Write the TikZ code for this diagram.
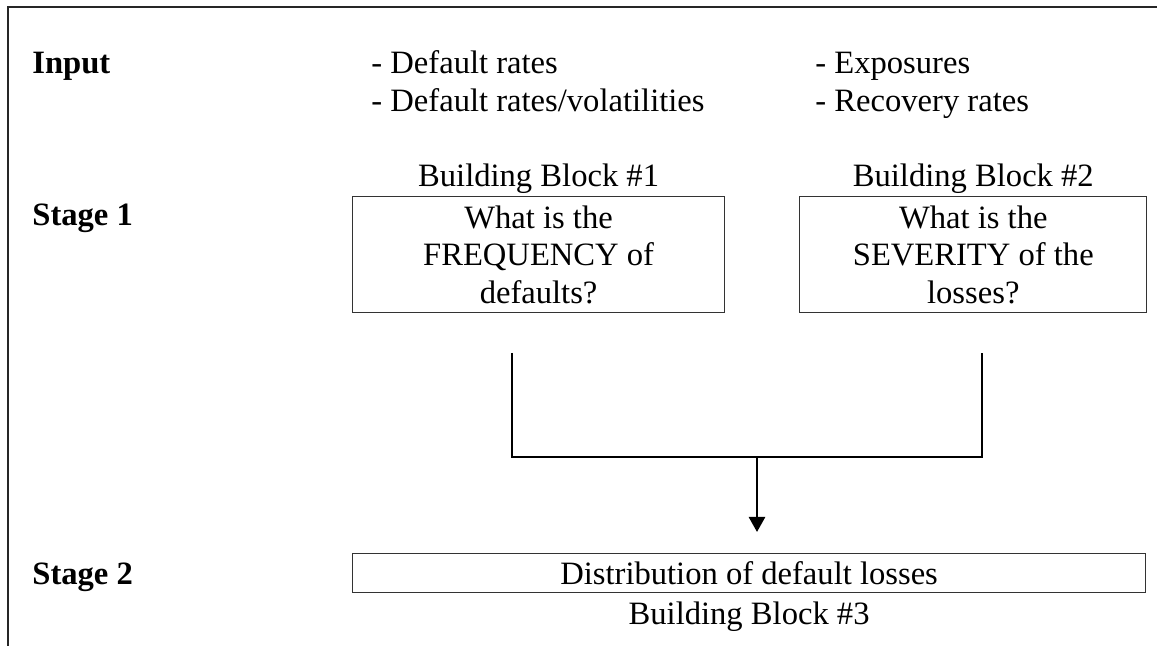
\documentclass[tikz,border=0pt]{standalone}
\usepackage{fontspec}
\setmainfont{Liberation Serif}
\usetikzlibrary{calc, positioning, arrows.meta}
\tikzset{
	txt/.style={inner sep=0pt, anchor=base west, font=\fontsize{16.3}{18.75}\selectfont},
	stage/.style={txt, font=\fontsize{16.3}{18.75}\selectfont\bfseries},
	block/.style={draw=black!80, line width=0.6pt, inner sep=0pt, anchor=north west, align=center, font=\fontsize{16.3}{18.75}\selectfont},
	bblabel/.style={inner sep=1pt, font=\fontsize{16.3}{18.75}\selectfont},
	conn/.style={line width=1.3pt, black},
}

\begin{document}
\begin{tikzpicture}[x=0.5pt, y=-0.5pt]
		\useasboundingbox (0,0) rectangle (1157,646);
		\draw[line width=1pt, black!85] (8,646) -- (8,7) -- (1157,7);
		
		\node[stage] (in) at (32,74) {Input};
		\node[stage] (s1) at (32,226) {Stage 1};
		\node[stage] (s2) at (32,584) {Stage 2};
		
		\node[txt] (d1) at (371,74) {- Default rates};
		\node[txt] (d2) at (371,111.5) {- Default rates/volatilities};
		\node[txt] (e1) at (815,74) {- Exposures};
		\node[txt] (e2) at (815,111.5) {- Recovery rates};
		
		\node[block, minimum width=186pt, minimum height=58pt] (b1) at (352,196) {What is the\\FREQUENCY of\\defaults?};
		\node[block, minimum width=173.5pt, minimum height=58pt, right=37pt of b1] (b2) {What is the\\SEVERITY of the\\losses?};
		\node[block, minimum width=396.5pt, minimum height=19.5pt] (b3) at (352,553) {Distribution of default losses};
		
		\node[bblabel, above=0pt of b1] (bb1) {Building Block \#1};
		\node[bblabel, above=0pt of b2] (bb2) {Building Block \#2};
		\node[bblabel, below=3pt of b3] (bb3) {Building Block \#3};
		
		\coordinate (c1) at (512,353);
		\coordinate (c2) at (982,353);
		\coordinate (m) at (757,457);
		\draw[conn] (c1) |- (m) -| (c2);
		\draw[conn, -{Triangle[width=8pt,length=7.5pt]}, shorten >=10.5pt] (m) -- (m |- b3.north);
		
\end{tikzpicture}
\end{document}
